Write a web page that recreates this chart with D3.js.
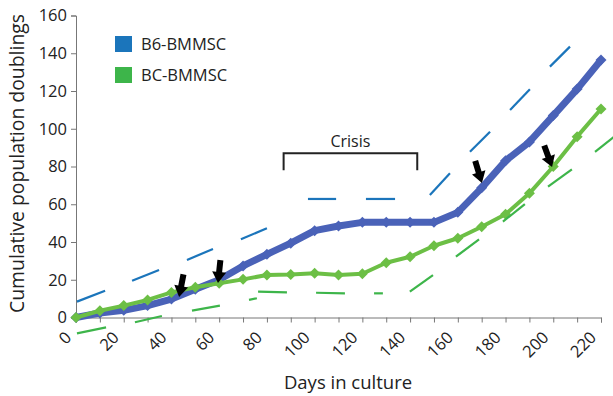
<!DOCTYPE html>
<html>
<head>
<meta charset="utf-8">
<script src="https://cdn.jsdelivr.net/npm/d3@7"></script>
<style>
  body { margin: 0; background: #fff; }
  svg text { font-family: "Open Sans", "Noto Sans", sans-serif; fill: #222; }
</style>
</head>
<body>
<div id="graphArea"></div>
<script>
const width = 613, height = 396;

// days sampled every 10 days
const days = [0,10,20,30,40,50,60,70,80,90,100,110,120,130,140,150,160,170,180,190,200,210,220];
const b6Values = [0,2.4,3.8,6.3,9.8,15,20,27.3,33.5,39.4,46,48.5,50.4,50.4,50.4,50.4,55.7,68.7,83,93,107,121,136.4];
const bcValues = [0,3.6,6.3,9.3,13.3,16,18.1,20.2,22.5,22.8,23.4,22.5,23.2,29,32.2,38,42,48.1,54.7,65.8,80,95.8,110.5];

const xTicks = [0,20,40,60,80,100,120,140,160,180,200,220];
const yTicks = [0,20,40,60,80,100,120,140,160];

// dashed guide strokes, each [day0, value0, day1, value1]
const b6Dashes = [
  [0.4,8.4,12.2,14.2],[23.5,19.5,34.8,25.2],[46.5,30.5,57.4,36.3],[69.1,41.4,80,47.3],
  [97.2,62.8,109,62.8],[121.5,62.8,133.7,62.8],[148.3,64.9,156.7,76.4],
  [165.1,87.8,173.5,98.4],[181.9,109.9,190.2,120.9],[198.6,132.9,207,143.5]
];
const bcDashes = [
  [0.4,-8.4,12.6,-5.2],[24.7,-2.5,36,0.8],[48.6,3.6,60.3,6.3],[72.5,9.3,75.8,10.2],
  [76.3,13.7,88.4,13.3],[100.6,13.1,112.7,12.8],[124.9,12.8,128.6,12.8],
  [139.9,13.7,149.6,22.5],[159.2,32.2,168.9,41.4],[178.9,50.8,188.1,60.1],
  [197.8,69.3,207.8,78.5],[217.5,87.8,225.3,95.6]
];

// arrow tips [day, value, tilt in degrees]
const arrows = [[43.2,10.9,11],[59.5,18.3,6],[170.1,71.3,-17],[199.5,79.7,-20]];

// crisis bracket [startDay, endDay, topValue, bottomValue]
const crisis = [87, 143, 87, 78];

const legendNames = ["B6-BMMSC", "BC-BMMSC"];
const legendColors = ["#1b75bb", "#3db54a"];

const margin = {left: 76, top: 15.5};
const plotW = 525, plotH = 302;

const svg = d3.select("#graphArea").append("svg")
  .attr("width", width).attr("height", height);
const g = svg.append("g").attr("transform", "translate(" + margin.left + "," + margin.top + ")");

const x = d3.scaleLinear().domain([0, 220]).range([0, plotW]);
const y = d3.scaleLinear().domain([0, 160]).range([plotH, 0]);

// axes
const yAxis = g.append("g").call(d3.axisLeft(y).tickValues(yTicks).tickSize(5).tickPadding(4));
yAxis.select(".domain").attr("stroke", "#777");
yAxis.selectAll(".tick line").attr("stroke", "#777");
yAxis.selectAll("text").style("font-size", "16.5px").attr("fill", "#222");

const xAxis = g.append("g").attr("transform", "translate(0," + plotH + ")")
  .call(d3.axisBottom(x).tickValues(days).tickSize(5).tickFormat(""));
xAxis.select(".domain").attr("stroke", "#777");
xAxis.selectAll(".tick line").attr("stroke", "#777");

// rotated labels, baseline ends just left of the tick
g.append("g").selectAll("text").data(xTicks).join("text")
  .attr("transform", d => "translate(" + (x(d) - 3.7) + "," + (plotH + 21) + ") rotate(-45)")
  .attr("text-anchor", "end")
  .style("font-size", "16.5px")
  .text(d => d);

// titles
svg.append("text")
  .attr("x", 348).attr("y", 389)
  .attr("text-anchor", "middle")
  .style("font-size", "18.5px")
  .text("Days in culture");
svg.append("text")
  .attr("transform", "translate(24,163.5) rotate(-90)")
  .attr("text-anchor", "middle")
  .style("font-size", "19.4px")
  .text("Cumulative population doublings");

// data lines
const line = d3.line().x((d, i) => x(days[i])).y(d => y(d));
const diamond = r => "M0," + (-r) + "L" + r + ",0L0," + r + "L" + (-r) + ",0Z";

function series(values, color, lw, r) {
  g.append("path").datum(values)
    .attr("fill", "none").attr("stroke", color).attr("stroke-width", lw)
    .attr("stroke-linejoin", "round")
    .attr("d", line);
  g.append("g").selectAll("path").data(values).join("path")
    .attr("transform", (d, i) => "translate(" + x(days[i]) + "," + y(d) + ")")
    .attr("d", diamond(r))
    .attr("fill", color);
}
series(b6Values, "#4a62b8", 7, 5.5);
series(bcValues, "#6cbf45", 4, 5.5);

// dashed guides
function dashes(segs, color) {
  g.append("g").selectAll("line").data(segs).join("line")
    .attr("x1", d => x(d[0])).attr("y1", d => y(d[1]))
    .attr("x2", d => x(d[2])).attr("y2", d => y(d[3]))
    .attr("stroke", color).attr("stroke-width", 2.2);
}
dashes(b6Dashes, "#1b75bb");
dashes(bcDashes, "#3db54a");

// arrows
g.append("g").selectAll("path").data(arrows).join("path")
  .attr("transform", d => "translate(" + x(d[0]) + "," + y(d[1]) + ") rotate(" + d[2] + ")")
  .attr("d", "M-3,-23L3,-23L3,-11L7,-11L0,0L-7,-11L-3,-11Z")
  .attr("fill", "#000");

// crisis bracket
g.append("path")
  .attr("d", "M" + x(crisis[0]) + "," + y(crisis[3]) + "V" + y(crisis[2]) + "H" + x(crisis[1]) + "V" + y(crisis[3]))
  .attr("fill", "none").attr("stroke", "#222").attr("stroke-width", 2);
g.append("text")
  .attr("x", (x(crisis[0]) + x(crisis[1])) / 2).attr("y", y(crisis[2]) - 6)
  .attr("text-anchor", "middle")
  .style("font-size", "16px")
  .text("Crisis");

// legend
const legend = svg.append("g").selectAll("g").data(legendNames).join("g")
  .attr("transform", (d, i) => "translate(115," + (36 + i * 31) + ")");
legend.append("rect").attr("width", 17).attr("height", 16)
  .attr("fill", (d, i) => legendColors[i]);
legend.append("text").attr("x", 26).attr("y", 8).attr("dy", "0.35em")
  .style("font-size", "16.5px")
  .text(d => d);
</script>
</body>
</html>
